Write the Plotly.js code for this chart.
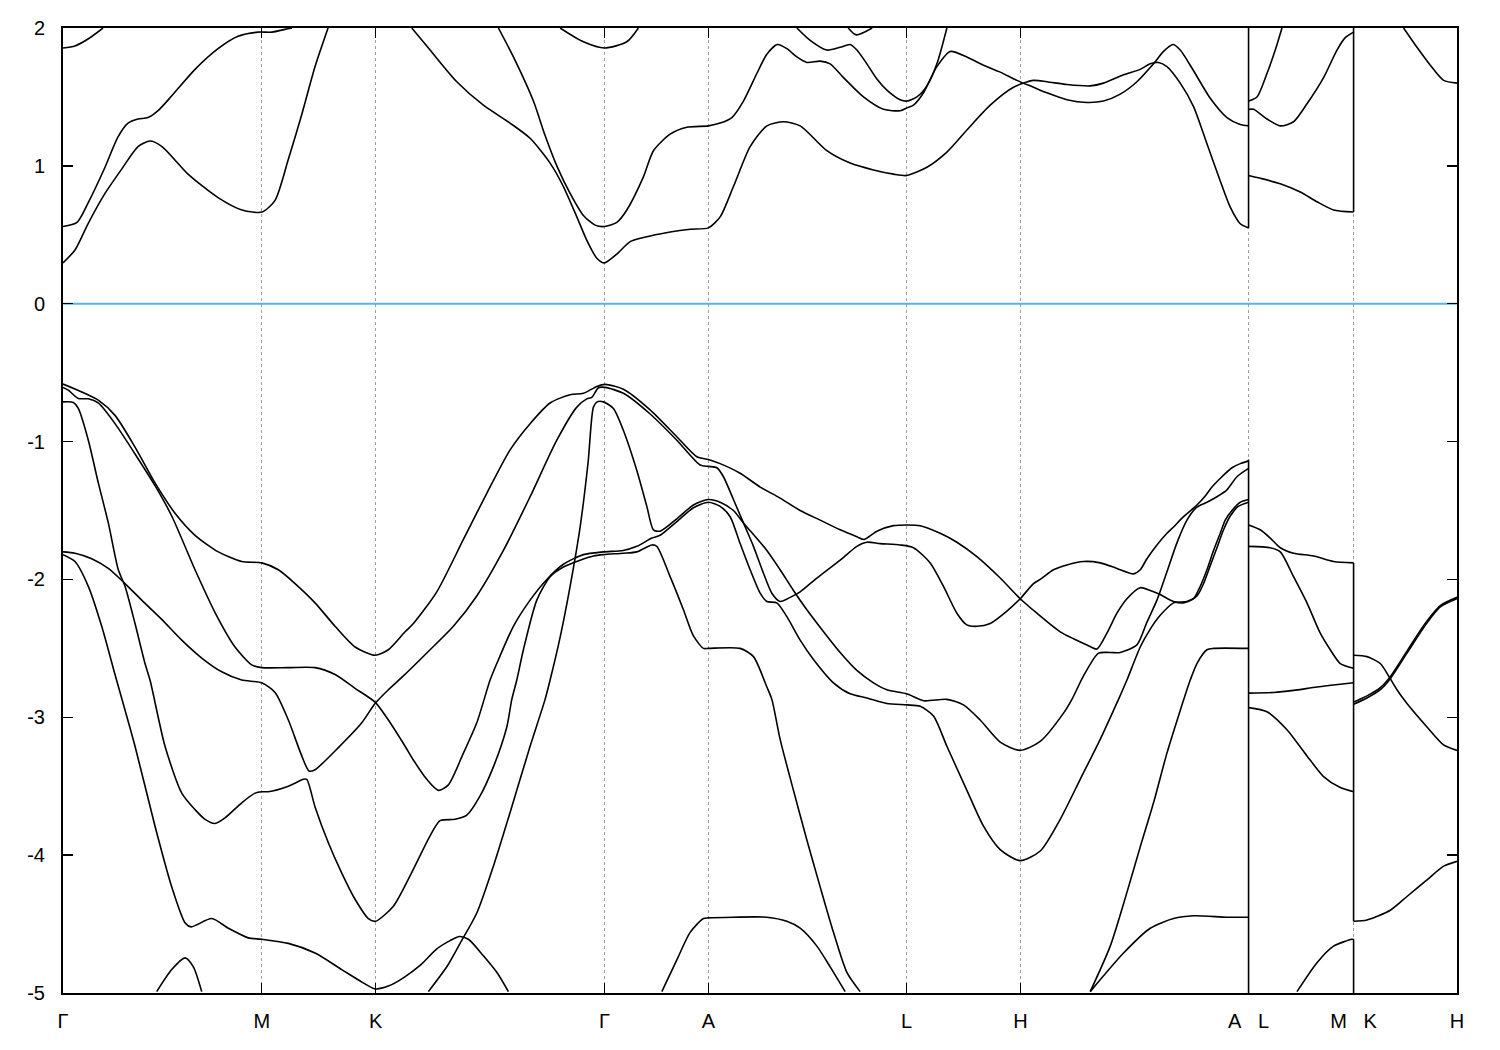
<!DOCTYPE html>
<html>
<head>
<meta charset="utf-8">
<script src="https://cdn.plot.ly/plotly-3.0.1.min.js"></script>
<style>html,body{margin:0;padding:0;background:#fff}</style>
</head>
<body>
<div id="chart" style="width:1500px;height:1050px"></div>
<script>
// High-symmetry points along the k-path (path units)
const kTicks = [0, 198.7, 312.5, 541.3, 645.3, 843.3, 957.3, 1185.3, 1290.3, 1393.7];
const kLabels = ['Γ', 'M', 'K', 'Γ', 'A', 'L', 'H', 'A\u00a0\u00a0\u00a0L', 'M\u00a0\u00a0\u00a0K', 'H'];
const eTicks = [2, 1, 0, -1, -2, -3, -4, -5];
const eLabels = ['2', '1', '0', '-1', '-2', '-3', '-4', '-5'];
const fermiLevel = 0;

// ---------- conduction bands ----------
const cb1_k = [0, 12, 25, 42, 59, 75, 87, 99, 125, 155, 179, 199, 212, 225, 239, 252, 265];
const cb1_e = [0.296, 0.39, 0.58, 0.80, 0.98, 1.14, 1.18, 1.14, 0.94, 0.77, 0.68, 0.665, 0.75, 1.04, 1.38, 1.72, 2.0];
const cb2_k = [0, 14, 25, 42, 55, 65, 75, 85, 95, 109, 132, 155, 175, 195, 209, 222, 229];
const cb2_e = [0.56, 0.59, 0.73, 0.99, 1.21, 1.31, 1.34, 1.35, 1.40, 1.51, 1.70, 1.85, 1.94, 1.97, 1.97, 1.99, 2.0];
const cb3_k = [0, 12, 25, 40];
const cb3_e = [1.855, 1.87, 1.92, 2.0];
const cb4_k = [348.7, 367, 393.7, 420.3, 447, 467, 487, 500.3, 513.7, 523.7, 533.7, 541.3, 553.7, 567, 580.3, 607, 627, 645.3, 657, 670.3, 687, 703.7, 720.3, 737, 763.7, 787, 810.3, 830.3, 843.7, 863.7, 883.7, 903.7, 927, 950.3, 970.3, 983.7, 1003.7, 1027, 1040.3, 1060.3, 1077, 1087, 1095.3, 1103.7, 1117, 1130.3, 1143.7, 1157, 1167, 1177, 1185.3];
const cb4_e = [2.0, 1.84, 1.61, 1.44, 1.31, 1.20, 1.02, 0.85, 0.63, 0.46, 0.33, 0.296, 0.36, 0.45, 0.48, 0.52, 0.54, 0.55, 0.63, 0.85, 1.14, 1.29, 1.32, 1.29, 1.11, 1.02, 0.97, 0.94, 0.93, 0.99, 1.10, 1.26, 1.44, 1.57, 1.62, 1.61, 1.59, 1.58, 1.60, 1.66, 1.70, 1.74, 1.75, 1.72, 1.60, 1.43, 1.16, 0.89, 0.70, 0.58, 0.55];
const cb5_k = [435.3, 450.3, 470.3, 482, 493.7, 507, 520.3, 532, 541.3, 553.7, 563.7, 580.3, 590.3, 607, 623.7, 645.3, 657, 668.7, 680.3, 693.7, 703.7, 714.3, 723.7, 733.7, 743.7, 757, 767, 780.3, 800.3, 820.3, 837, 843.7, 850.3, 860.3, 873.7, 887, 903.7, 920.3, 937, 953.7, 970.3, 983.7, 1003.7, 1023.7, 1040.3, 1057, 1073.7, 1090.3, 1100.3, 1109.7, 1117, 1130.3, 1147, 1163.7, 1177, 1185.3];
const cb5_e = [2.0, 1.79, 1.47, 1.22, 1.00, 0.80, 0.64, 0.57, 0.56, 0.59, 0.68, 0.92, 1.11, 1.23, 1.28, 1.29, 1.31, 1.35, 1.47, 1.67, 1.81, 1.88, 1.85, 1.79, 1.75, 1.76, 1.74, 1.64, 1.50, 1.41, 1.40, 1.42, 1.44, 1.53, 1.72, 1.83, 1.79, 1.73, 1.68, 1.62, 1.57, 1.53, 1.48, 1.46, 1.47, 1.52, 1.61, 1.74, 1.83, 1.88, 1.84, 1.69, 1.49, 1.35, 1.30, 1.29];
const cb6_k = [497, 520.3, 541.3, 563.7, 575.3];
const cb6_e = [2.0, 1.90, 1.855, 1.90, 2.0];
const cb7_k = [733.7, 747, 763.7, 777, 787, 793.7, 803.7, 813.7, 823.7, 837, 843.7, 853.7, 863.7, 873.7, 883.7];
const cb7_e = [2.0, 1.91, 1.84, 1.86, 1.88, 1.84, 1.74, 1.63, 1.55, 1.48, 1.47, 1.50, 1.58, 1.74, 2.0];
const cb8_k = [785, 793, 809];
const cb8_e = [2.0, 1.95, 2.0];
const cb9_k = [1185.3, 1193.7, 1203.7, 1212, 1218.7];
const cb9_e = [1.47, 1.50, 1.67, 1.84, 2.0];
const cb10_k = [1185.3, 1190.3, 1203.7, 1217, 1230.3, 1243.7, 1260.3, 1273.7, 1282, 1290.3];
const cb10_e = [1.41, 1.41, 1.34, 1.29, 1.32, 1.45, 1.64, 1.84, 1.93, 1.97];
const cb11_k = [1185.3, 1197, 1217, 1237, 1253.7, 1270.3, 1290.3];
const cb11_e = [0.93, 0.91, 0.87, 0.81, 0.74, 0.68, 0.665];
const cb12_k = [1340.3, 1353.7, 1367, 1380.3, 1393.7];
const cb12_e = [2.0, 1.86, 1.73, 1.62, 1.60];

// ---------- valence bands ----------
const vb1_k = [0, 18.7, 35.3, 52, 72, 92, 112, 132, 155.3, 178.7, 198.7, 215.3, 232, 252, 272, 292, 312, 325.3, 342, 350.3, 373.7, 400.3, 423.7, 447, 467, 487, 507, 520.3, 533.7, 542, 560.3, 587, 613.7, 633.7, 645.3, 657, 677, 697, 717, 737, 757, 777, 793.7, 801, 813.7, 830.3, 843.7, 857, 877, 893.7, 913.7, 937, 957, 973.7, 997, 1010.3, 1023.7, 1033.7, 1043.7, 1053.7, 1063.7, 1077, 1087, 1097, 1110.3, 1120.3, 1130.3, 1137, 1143.7, 1150.3, 1157, 1162, 1168.7, 1177, 1185.3];
const vb1_e = [-0.583, -0.64, -0.70, -0.81, -1.04, -1.30, -1.52, -1.68, -1.80, -1.87, -1.88, -1.93, -2.03, -2.17, -2.34, -2.49, -2.55, -2.51, -2.38, -2.32, -2.09, -1.71, -1.375, -1.06, -0.87, -0.72, -0.66, -0.65, -0.60, -0.585, -0.62, -0.77, -0.965, -1.11, -1.13, -1.16, -1.23, -1.33, -1.41, -1.50, -1.57, -1.64, -1.69, -1.71, -1.65, -1.61, -1.605, -1.61, -1.665, -1.73, -1.835, -1.99, -2.14, -2.245, -2.38, -2.43, -2.475, -2.505, -2.39, -2.245, -2.14, -2.06, -2.08, -2.11, -2.16, -2.17, -2.14, -2.05, -1.93, -1.79, -1.665, -1.57, -1.50, -1.44, -1.42];
const vb2_k = [0, 5.3, 15.3, 25.3, 35.3, 52, 72, 92, 108.7, 132, 152, 172, 188.7, 198.7, 225.3, 252, 272, 292, 312, 325.3, 342, 350.3, 363.7, 375.3, 385.3, 400.3, 413.7, 427, 433.7, 450.3, 467, 483.7, 500.3, 520.3, 540.3, 560, 573.7, 588.7, 597, 613.7, 630.3, 645.3, 657, 667, 677, 687, 697, 703.7, 713.7, 723.7, 737, 750.3, 770.3, 787, 803.7, 823.7, 843.7, 857, 870.3, 883.7, 903.7, 920.3, 937, 957, 977, 997, 1017, 1037, 1050.3, 1055.3, 1063.7, 1077, 1087, 1097, 1110.3, 1123.7, 1133.7, 1140.3, 1147, 1153.7, 1160.3, 1167, 1175, 1185.3];
const vb2_e = [-0.607, -0.627, -0.687, -0.69, -0.72, -0.87, -1.09, -1.32, -1.54, -1.93, -2.24, -2.49, -2.62, -2.64, -2.64, -2.64, -2.69, -2.79, -2.89, -3.02, -3.21, -3.31, -3.45, -3.53, -3.49, -3.26, -3.04, -2.73, -2.61, -2.34, -2.15, -2.00, -1.89, -1.82, -1.80, -1.79, -1.76, -1.70, -1.68, -1.58, -1.48, -1.44, -1.47, -1.545, -1.74, -1.93, -2.10, -2.16, -2.17, -2.27, -2.44, -2.58, -2.75, -2.83, -2.86, -2.90, -2.91, -2.92, -2.99, -3.21, -3.53, -3.79, -3.96, -4.04, -3.97, -3.74, -3.45, -3.16, -2.95, -2.87, -2.73, -2.49, -2.36, -2.26, -2.17, -2.16, -2.12, -2.03, -1.90, -1.77, -1.64, -1.54, -1.47, -1.44];
const vb3_k = [0, 10.3, 15.3, 25.3, 35.3, 45.3, 55.3, 62, 72, 82, 87, 102, 118.7, 132, 142, 152, 162, 178.7, 192, 198.7, 205.3, 225.3, 240.3, 243.7, 252, 265.3, 278.7, 292, 305.3, 312.3, 330.3, 347, 367, 377, 392, 403.7, 417, 430.3, 443.7, 448.7, 453.7, 460.3, 473.7, 487, 500.3, 517, 530.3, 540.3, 560.3, 573.7, 588.7, 593.7, 607, 620.3, 630.3, 640.3, 645.3, 677, 690.3, 703.7, 708.7, 717, 730.3, 743.7, 757, 770.3, 783.7, 797];
const vb3_e = [-0.712, -0.716, -0.76, -0.99, -1.30, -1.59, -1.93, -2.05, -2.32, -2.61, -2.73, -3.21, -3.55, -3.67, -3.74, -3.77, -3.73, -3.62, -3.55, -3.54, -3.54, -3.50, -3.45, -3.45, -3.65, -3.91, -4.13, -4.32, -4.46, -4.48, -4.37, -4.15, -3.86, -3.75, -3.74, -3.71, -3.57, -3.36, -3.07, -2.87, -2.73, -2.51, -2.15, -1.98, -1.91, -1.86, -1.83, -1.82, -1.81, -1.80, -1.75, -1.76, -1.98, -2.22, -2.41, -2.50, -2.50, -2.50, -2.56, -2.78, -2.87, -3.16, -3.53, -3.89, -4.23, -4.56, -4.85, -4.99];
const vb4_k = [0, 12, 28.7, 45.3, 62, 78.7, 98.7, 118.7, 138.7, 158.7, 178.7, 198.7, 212, 225.3, 238.7, 246, 252, 275.3, 298.7, 312, 325.3, 340.3, 367, 390.3, 413.7, 440.3, 467, 493.7, 513.7, 523.7, 528.7, 535.3, 542, 560.3, 587, 613.7, 637, 645.3, 653.7, 660.3, 670.3, 680.3, 690.3, 700.3, 708.7, 717, 727, 737, 753.7, 777, 793.7, 803.7, 817, 837, 850.3, 867, 880.3, 893.7, 903.7, 913.7, 927, 943.7, 957, 970.3, 977, 990.3, 1003.7, 1020.3, 1037, 1053.7, 1070.3, 1077, 1083.7, 1093.7, 1103.7, 1110.3, 1120.3, 1133.7, 1142, 1148.7, 1158.7, 1168.7, 1177, 1185.3];
const vb4_e = [-1.80, -1.81, -1.85, -1.92, -2.03, -2.15, -2.29, -2.44, -2.57, -2.67, -2.73, -2.75, -2.82, -3.02, -3.28, -3.39, -3.38, -3.22, -3.04, -2.90, -2.80, -2.70, -2.51, -2.34, -2.12, -1.79, -1.40, -0.99, -0.75, -0.69, -0.68, -0.61, -0.607, -0.65, -0.80, -0.99, -1.17, -1.18, -1.19, -1.255, -1.42, -1.59, -1.76, -1.955, -2.10, -2.16, -2.13, -2.09, -1.99, -1.86, -1.76, -1.73, -1.74, -1.75, -1.77, -1.88, -2.05, -2.245, -2.33, -2.34, -2.32, -2.23, -2.14, -2.03, -2.00, -1.93, -1.895, -1.87, -1.88, -1.92, -1.96, -1.93, -1.85, -1.75, -1.665, -1.62, -1.545, -1.46, -1.395, -1.33, -1.255, -1.19, -1.16, -1.14];
const vb5_k = [0, 12, 25.3, 38.7, 52, 72, 92, 108.7, 122, 128, 148.7, 165.3, 185.3, 198.7, 225.3, 252, 278.7, 298.7, 312, 325.3, 340.3, 357, 373.7, 387, 396.3, 405.3, 420.3, 433.7, 445.3];
const vb5_e = [-1.82, -1.87, -2.05, -2.34, -2.69, -3.21, -3.79, -4.23, -4.49, -4.52, -4.46, -4.53, -4.60, -4.61, -4.64, -4.71, -4.83, -4.92, -4.97, -4.95, -4.89, -4.80, -4.68, -4.62, -4.59, -4.61, -4.73, -4.85, -4.99];
const vb6_k = [93.7, 108.7, 122, 130.3, 138.7];
const vb6_e = [-4.99, -4.83, -4.745, -4.81, -4.99];
const vb7_k = [365.3, 383.7, 397, 413.7, 430.3, 447, 467, 482, 487, 497, 507, 517, 525, 530.3, 534, 540.3, 550.3, 560.3, 573.7, 583.7, 590.3, 597, 613.7, 630.3, 645.3, 657, 670.3, 680.3, 703.7, 717, 730.3, 743.7, 763.7, 777, 793.7, 810.3, 823.7, 843.7, 860.3, 883.7, 900.3, 917, 937, 957, 977, 1000.3, 1008.7, 1020.3, 1035.3, 1047, 1057, 1073.7, 1083.7, 1093.7, 1103.7, 1113.7, 1123.7, 1133.7, 1143.7, 1153.7, 1163.7, 1173.7, 1185.3];
const vb7_e = [-4.99, -4.81, -4.64, -4.42, -4.08, -3.69, -3.21, -2.87, -2.73, -2.42, -2.05, -1.62, -1.15, -0.75, -0.712, -0.712, -0.76, -0.92, -1.21, -1.47, -1.64, -1.65, -1.56, -1.46, -1.42, -1.44, -1.50, -1.59, -1.79, -1.93, -2.08, -2.22, -2.41, -2.53, -2.66, -2.75, -2.80, -2.83, -2.88, -2.87, -2.91, -3.02, -3.18, -3.24, -3.175, -2.97, -2.87, -2.70, -2.535, -2.53, -2.53, -2.475, -2.31, -2.15, -1.945, -1.735, -1.57, -1.475, -1.44, -1.40, -1.35, -1.255, -1.195];
const vb8_k = [598.7, 613.7, 627, 640.3, 645.3, 670.3, 703.7, 723.7, 737, 753.7, 767, 782];
const vb8_e = [-4.99, -4.76, -4.56, -4.46, -4.455, -4.45, -4.45, -4.48, -4.53, -4.66, -4.81, -4.99];
const vb9_k = [1027, 1047, 1063.7, 1077, 1090.3, 1103.7, 1117, 1127, 1133.7, 1143.7, 1150.3, 1185.3];
const vb9_e = [-4.99, -4.66, -4.27, -3.94, -3.62, -3.26, -2.95, -2.73, -2.61, -2.51, -2.50, -2.50];
const vb10_k = [1027, 1060.3, 1087, 1110.3, 1130.3, 1163.7, 1185.3];
const vb10_e = [-4.99, -4.71, -4.53, -4.46, -4.44, -4.45, -4.45];
const vb11_k = [1185.3, 1197, 1207, 1217, 1230.3, 1250.3, 1270.3, 1290.3];
const vb11_e = [-1.605, -1.64, -1.70, -1.77, -1.81, -1.83, -1.87, -1.88];
const vb12_k = [1185.3, 1207, 1217, 1230.3, 1243.7, 1257, 1267, 1277, 1290.3];
const vb12_e = [-1.76, -1.77, -1.80, -1.98, -2.17, -2.39, -2.51, -2.61, -2.645];
const vb13_k = [1185.3, 1210.3, 1230.3, 1253.7, 1277, 1290.3];
const vb13_e = [-2.825, -2.82, -2.805, -2.78, -2.76, -2.75];
const vb14_k = [1185.3, 1203.7, 1223.7, 1243.7, 1260.3, 1277, 1290.3];
const vb14_e = [-2.93, -2.96, -3.09, -3.28, -3.43, -3.51, -3.54];
const vb15_k = [1233.7, 1253.7, 1270.3, 1288.7, 1290.3];
const vb15_e = [-4.99, -4.78, -4.66, -4.61, -4.61];
const vb16_k = [1290.3, 1303.7, 1317, 1325.3, 1333.7, 1343.7, 1363.7, 1380.3, 1393.7];
const vb16_e = [-2.55, -2.56, -2.61, -2.70, -2.80, -2.90, -3.07, -3.20, -3.24];
const vb17_k = [1290.3, 1303.7, 1317, 1327, 1343.7, 1360.3, 1377, 1393.7];
const vb17_e = [-2.905, -2.86, -2.80, -2.72, -2.535, -2.35, -2.20, -2.14];
const vb18_k = [1290.3, 1303.7, 1317, 1327, 1343.7, 1360.3, 1377, 1393.7];
const vb18_e = [-2.89, -2.845, -2.785, -2.705, -2.52, -2.335, -2.19, -2.13];
const vb19_k = [1290.3, 1303.7, 1327, 1343.7, 1363.7, 1380.3, 1393.7];
const vb19_e = [-4.48, -4.47, -4.40, -4.30, -4.18, -4.08, -4.045];

// band jumps at the path discontinuities (A|L and M|K)
const jump1_k = [1185.3, 1185.3];
const jump1_e = [2.0, 0.55];
const jump2_k = [1185.3, 1185.3];
const jump2_e = [-1.13, -5.0];
const jump3_k = [1290.3, 1290.3];
const jump3_e = [2.0, 0.665];
const jump4_k = [1290.3, 1290.3];
const jump4_e = [-1.88, -4.48];
const jump5_k = [1290.3, 1290.3];
const jump5_e = [-4.61, -5.0];

const bands = [
  [cb1_k, cb1_e], [cb2_k, cb2_e], [cb3_k, cb3_e], [cb4_k, cb4_e], [cb5_k, cb5_e],
  [cb6_k, cb6_e], [cb7_k, cb7_e], [cb8_k, cb8_e], [cb9_k, cb9_e], [cb10_k, cb10_e],
  [cb11_k, cb11_e], [cb12_k, cb12_e],
  [vb1_k, vb1_e], [vb2_k, vb2_e], [vb3_k, vb3_e], [vb4_k, vb4_e], [vb5_k, vb5_e],
  [vb6_k, vb6_e], [vb7_k, vb7_e], [vb8_k, vb8_e], [vb9_k, vb9_e], [vb10_k, vb10_e],
  [vb11_k, vb11_e], [vb12_k, vb12_e], [vb13_k, vb13_e], [vb14_k, vb14_e], [vb15_k, vb15_e],
  [vb16_k, vb16_e], [vb17_k, vb17_e], [vb18_k, vb18_e], [vb19_k, vb19_e]
];
const jumps = [[jump1_k, jump1_e], [jump2_k, jump2_e], [jump3_k, jump3_e], [jump4_k, jump4_e], [jump5_k, jump5_e]];

const traces = [{
  x: [kTicks[0], kTicks[kTicks.length - 1]], y: [fermiLevel, fermiLevel],
  mode: 'lines', line: {color: '#56b4e9', width: 2}, hoverinfo: 'skip', showlegend: false
}];
bands.forEach(function (b) {
  traces.push({
    x: b[0], y: b[1], mode: 'lines',
    line: {color: '#000000', width: 1.6, shape: 'spline', smoothing: 0.7},
    hoverinfo: 'skip', showlegend: false
  });
});
jumps.forEach(function (b) {
  traces.push({
    x: b[0], y: b[1], mode: 'lines',
    line: {color: '#000000', width: 1.6},
    hoverinfo: 'skip', showlegend: false
  });
});

const font = {family: 'Liberation Sans, Arial, sans-serif', size: 20, color: '#000000'};
const layout = {
  width: 1500, height: 1050,
  margin: {l: 63, r: 43, t: 28, b: 57},
  paper_bgcolor: '#ffffff', plot_bgcolor: '#ffffff',
  showlegend: false,
  font: font,
  xaxis: {
    range: [kTicks[0], kTicks[kTicks.length - 1]],
    tickmode: 'array', tickvals: kTicks, ticktext: kLabels,
    showgrid: true, gridcolor: '#a0a0a0', gridwidth: 1, griddash: 'dot',
    zeroline: false,
    showline: true, linecolor: '#000000', linewidth: 2, mirror: 'ticks',
    ticks: 'inside', ticklen: 10, tickwidth: 1.5, tickcolor: '#000000',
    tickfont: font, ticklabelstandoff: 9
  },
  yaxis: {
    range: [-5, 2],
    tickmode: 'array', tickvals: eTicks, ticktext: eLabels,
    showgrid: false, zeroline: false,
    showline: true, linecolor: '#000000', linewidth: 2, mirror: 'ticks',
    ticks: 'inside', ticklen: 10, tickwidth: 1.5, tickcolor: '#000000',
    tickfont: font, ticklabelstandoff: 12
  }
};

Plotly.newPlot('chart', traces, layout, {displayModeBar: false, staticPlot: true});
</script>
</body>
</html>
